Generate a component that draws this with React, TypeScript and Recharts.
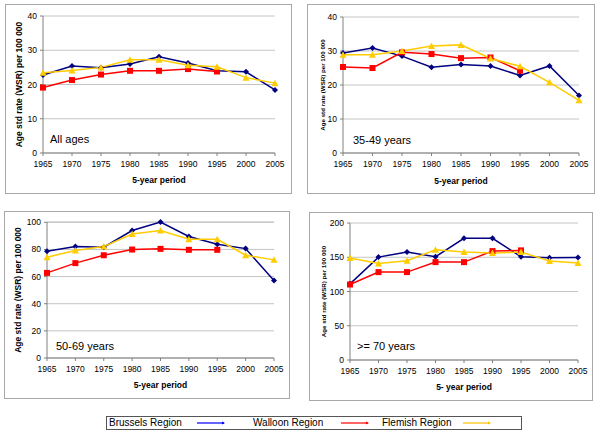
import React from 'react';
import { LineChart, Line, XAxis, YAxis, CartesianGrid } from 'recharts';

const years = ['1965', '1970', '1975', '1980', '1985', '1990', '1995', '2000', '2005'];

// All ages
const brusselsAll = [22.8, 25.4, 24.9, 26.0, 28.1, 26.3, 24.0, 23.7, 18.4];
const walloonAll = [19.1, 21.3, 22.9, 24.0, 24.0, 24.5, 23.8, null, null];
const flemishAll = [23.4, 24.1, 25.0, 27.2, 27.2, 25.6, 25.2, 22.0, 20.4];

// 35-49 years
const brussels3549 = [29.4, 30.9, 28.5, 25.2, 26.0, 25.6, 22.8, 25.6, 16.9];
const walloon3549 = [25.3, 25.0, 29.6, 29.1, 27.9, 28.1, 24.2, null, null];
const flemish3549 = [28.9, 28.9, 30.0, 31.5, 31.8, 27.8, 25.5, 20.8, 15.5];

// 50-69 years
const brussels5069 = [78.7, 82.1, 81.6, 93.9, 100.2, 89.5, 83.8, 80.6, 57.1];
const walloon5069 = [62.7, 69.9, 75.7, 79.9, 80.4, 79.7, 79.7, null, null];
const flemish5069 = [74.3, 79.2, 82.1, 91.4, 93.9, 87.5, 87.5, 75.7, 72.3];

// >= 70 years
const brussels70 = [111.2, 150.2, 157.6, 150.7, 177.6, 177.6, 150.7, 149.3, 149.8];
const walloon70 = [110.2, 128.3, 128.3, 142.9, 142.9, 159.0, 160.0, null, null];
const flemish70 = [148.8, 141.0, 144.9, 161.0, 157.6, 156.1, 157.6, 144.4, 141.5];

const ticks40 = [0, 10, 20, 30, 40];
const ticks100 = [0, 20, 40, 60, 80, 100];
const ticks200 = [0, 50, 100, 150, 200];

const FONT = '"Liberation Sans", Arial, sans-serif';
const NAVY = '#000080';
const RED = '#FF0000';
const GOLD = '#FFCC00';

const rows = (b: (number | null)[], w: (number | null)[], f: (number | null)[]) =>
  years.map((y, i) => ({ year: y, brussels: b[i], walloon: w[i], flemish: f[i] }));

const Diamond = (p: any) => {
  if (p.cx == null || p.cy == null || p.value == null) return <g key={p.key} />;
  const s = 3;
  return (
    <path
      key={p.key}
      d={`M${p.cx},${p.cy - s}L${p.cx + s},${p.cy}L${p.cx},${p.cy + s}L${p.cx - s},${p.cy}Z`}
      fill={NAVY}
    />
  );
};

const Square = (p: any) => {
  if (p.cx == null || p.cy == null || p.value == null) return <g key={p.key} />;
  return <rect key={p.key} x={p.cx - 3} y={p.cy - 3} width={6} height={6} fill={RED} />;
};

const Triangle = (p: any) => {
  if (p.cx == null || p.cy == null || p.value == null) return <g key={p.key} />;
  return (
    <path
      key={p.key}
      d={`M${p.cx},${p.cy - 3.5}L${p.cx + 3.5},${p.cy + 3}L${p.cx - 3.5},${p.cy + 3}Z`}
      fill={GOLD}
    />
  );
};

interface PanelProps {
  box: { x: number; y: number; w: number; h: number };
  top: number;
  right: number;
  yWidth: number;
  xHeight: number;
  data: any[];
  domain: [number, number];
  ticks: number[];
  yLabelSize: number;
  yLabelOffset: number;
  xLabel: string;
  xLabelOffset: number;
  title: string;
  titlePos: { x: number; y: number };
}

const Panel: React.FC<PanelProps> = (p) => (
  <>
    <div
      style={{
        position: 'absolute',
        left: p.box.x,
        top: p.box.y,
        width: p.box.w,
        height: p.box.h,
        border: '1px solid #a8a8a8',
        boxSizing: 'border-box',
      }}
    />
    <div style={{ position: 'absolute', left: p.box.x, top: p.box.y }}>
      <LineChart
        width={p.box.w}
        height={p.box.h}
        data={p.data}
        margin={{ top: p.top, right: p.right, bottom: 0, left: 0 }}
      >
        <CartesianGrid vertical={false} stroke="#c4c4c4" />
        <XAxis
          dataKey="year"
          interval={0}
          height={p.xHeight}
          tickSize={3}
          tickMargin={5}
          stroke="#808080"
          tick={{ fontSize: 8.5, fill: '#000', fontFamily: FONT }}
          label={{
            value: p.xLabel,
            position: 'insideBottom',
            offset: p.xLabelOffset,
            style: { fontSize: 8.5, fontWeight: 'bold', fill: '#000', fontFamily: FONT },
          }}
        />
        <YAxis
          width={p.yWidth}
          domain={p.domain}
          ticks={p.ticks}
          interval={0}
          tickSize={3}
          tickMargin={3}
          stroke="#808080"
          tick={{ fontSize: 8.5, fill: '#000', fontFamily: FONT }}
          label={{
            value: 'Age std rate (WSR) per 100 000',
            angle: -90,
            position: 'insideLeft',
            offset: p.yLabelOffset,
            style: {
              textAnchor: 'middle',
              fontSize: p.yLabelSize,
              fontWeight: 'bold',
              fill: '#000',
              fontFamily: FONT,
            },
          }}
        />
        <Line
          dataKey="brussels"
          stroke={NAVY}
          strokeWidth={1.5}
          dot={Diamond}
          activeDot={false}
          isAnimationActive={false}
        />
        <Line
          dataKey="walloon"
          stroke={RED}
          strokeWidth={1.5}
          dot={Square}
          activeDot={false}
          isAnimationActive={false}
        />
        <Line
          dataKey="flemish"
          stroke={GOLD}
          strokeWidth={1.5}
          dot={Triangle}
          activeDot={false}
          isAnimationActive={false}
        />
      </LineChart>
    </div>
    <div
      style={{
        position: 'absolute',
        left: p.titlePos.x,
        top: p.titlePos.y,
        fontFamily: FONT,
        fontSize: 11,
        lineHeight: '13px',
        whiteSpace: 'nowrap',
      }}
    >
      {p.title}
    </div>
  </>
);

const legendItems = [
  { name: 'Brussels Region', color: '#0000FF', textX: 109, lineX: 197 },
  { name: 'Walloon Region', color: '#FF0000', textX: 253, lineX: 341 },
  { name: 'Flemish Region', color: '#FFC000', textX: 382, lineX: 463 },
];

const App: React.FC = () => (
  <div style={{ position: 'absolute', left: 0, top: 0, width: 600, height: 435, background: '#fff' }}>
    <Panel
      box={{ x: 5, y: 4, w: 287, h: 190 }}
      top={12}
      right={17}
      yWidth={38}
      xHeight={41}
      data={rows(brusselsAll, walloonAll, flemishAll)}
      domain={[0, 40]}
      ticks={ticks40}
      yLabelSize={8.5}
      yLabelOffset={14}
      xLabel="5-year period"
      xLabelOffset={11}
      title="All ages"
      titlePos={{ x: 50, y: 133 }}
    />
    <Panel
      box={{ x: 307, y: 4, w: 288, h: 190 }}
      top={13}
      right={16}
      yWidth={36}
      xHeight={41}
      data={rows(brussels3549, walloon3549, flemish3549)}
      domain={[0, 40]}
      ticks={ticks40}
      yLabelSize={6.2}
      yLabelOffset={16}
      xLabel="5-year period"
      xLabelOffset={10}
      title="35-49 years"
      titlePos={{ x: 353, y: 134 }}
    />
    <Panel
      box={{ x: 4, y: 211, w: 286, h: 188 }}
      top={11}
      right={16}
      yWidth={43}
      xHeight={41}
      data={rows(brussels5069, walloon5069, flemish5069)}
      domain={[0, 100]}
      ticks={ticks100}
      yLabelSize={8.5}
      yLabelOffset={14}
      xLabel="5-year period"
      xLabelOffset={11}
      title="50-69 years"
      titlePos={{ x: 56, y: 340 }}
    />
    <Panel
      box={{ x: 309, y: 212, w: 284, h: 189 }}
      top={11}
      right={15}
      yWidth={41}
      xHeight={41}
      data={rows(brussels70, walloon70, flemish70)}
      domain={[0, 200]}
      ticks={ticks200}
      yLabelSize={6.2}
      yLabelOffset={15}
      xLabel="5- year period"
      xLabelOffset={11}
      title=">= 70 years"
      titlePos={{ x: 357, y: 340 }}
    />
    <div
      style={{
        position: 'absolute',
        left: 106,
        top: 416,
        width: 416,
        height: 14,
        border: '1px solid #555',
        boxSizing: 'border-box',
      }}
    />
    {legendItems.map((it) => (
      <React.Fragment key={it.name}>
        <div
          style={{
            position: 'absolute',
            left: it.textX,
            top: 416,
            fontFamily: FONT,
            fontSize: 10,
            lineHeight: '14px',
            whiteSpace: 'nowrap',
          }}
        >
          {it.name}
        </div>
        <svg style={{ position: 'absolute', left: it.lineX, top: 419 }} width={30} height={8}>
          <line x1={0} y1={4} x2={27} y2={4} stroke={it.color} strokeWidth={1.2} />
          <path d="M25,2.5L28,4L25,5.5Z" fill={it.color} />
        </svg>
      </React.Fragment>
    ))}
  </div>
);

export default App;
